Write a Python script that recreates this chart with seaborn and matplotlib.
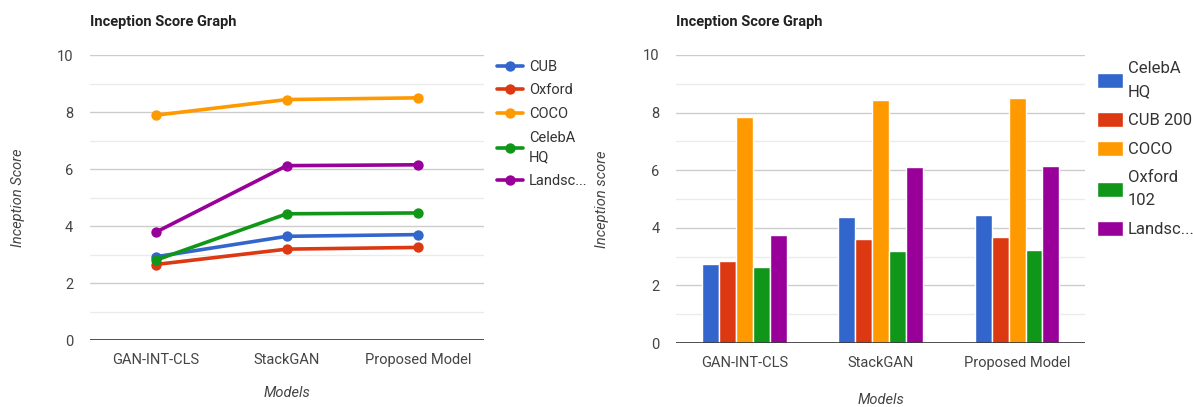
import pandas as pd
import matplotlib
matplotlib.use("Agg")
import matplotlib.pyplot as plt
from matplotlib.ticker import MultipleLocator
import seaborn as sns

# models on the x axis
models = ["GAN-INT-CLS", "StackGAN", "Proposed Model"]

# LINE CHART (left) - inception score per dataset
line_names = ["CUB", "Oxford", "COCO", "CelebA HQ", "Landsc..."]
line_cub = [2.92, 3.64, 3.70]
line_oxford = [2.65, 3.19, 3.25]
line_coco = [7.89, 8.44, 8.50]
line_celeba = [2.80, 4.43, 4.46]
line_landsc = [3.78, 6.12, 6.15]

# BAR CHART (right)
bar_names = ["CelebA HQ", "CUB 200", "COCO", "Oxford 102", "Landsc..."]
bar_celeba = [2.76, 4.39, 4.43]
bar_cub = [2.84, 3.60, 3.68]
bar_coco = [7.85, 8.45, 8.50]
bar_oxford = [2.63, 3.18, 3.22]
bar_landsc = [3.76, 6.10, 6.14]

line_labels = ["CUB", "Oxford", "COCO", "CelebA\nHQ", "Landsc..."]
bar_labels = ["CelebA\nHQ", "CUB 200", "COCO", "Oxford\n102", "Landsc..."]

line_clr = ["#3366cc", "#dc3912", "#ff9900", "#109618", "#990099"]
bar_clr = ["#3366cc", "#dc3912", "#ff9900", "#109618", "#990099"]


def long_df(names, series):
    rows = []
    for n, vals in zip(names, series):
        for m, v in zip(models, vals):
            rows.append({"model": m, "dataset": n, "score": v})
    return pd.DataFrame(rows)


dfl = long_df(line_names, [line_cub, line_oxford, line_coco, line_celeba, line_landsc])
dfb = long_df(bar_names, [bar_celeba, bar_cub, bar_coco, bar_oxford, bar_landsc])

sns.set_style("white")
plt.rcParams["font.family"] = ["Roboto", "DejaVu Sans"]

fig = plt.figure(figsize=(11.93, 4.07), dpi=100)
ax1 = fig.add_axes([0.0754, 0.1646, 0.330, 0.700])
ax2 = fig.add_axes([0.5667, 0.157, 0.343, 0.708])

sns.pointplot(data=dfl, x="model", y="score", hue="dataset", order=models,
              hue_order=line_names, palette=line_clr, markers="o", dodge=False,
              errorbar=None, markersize=5.5, linewidth=2.6, ax=ax1)

sns.barplot(data=dfb, x="model", y="score", hue="dataset", order=models,
            hue_order=bar_names, palette=bar_clr, saturation=1, width=0.62,
            errorbar=None, ax=ax2)


def style(ax, ylab, title, xlab_y):
    ax.set_ylim(0, 10)
    ax.set_xlim(-0.5, 2.5)
    ax.set_yticks(range(0, 11, 2))
    ax.yaxis.set_minor_locator(MultipleLocator(1))
    ax.grid(which="major", axis="y", color="#cccccc", lw=1)
    ax.grid(which="minor", axis="y", color="#ebebeb", lw=1)
    ax.set_axisbelow(True)
    for s in ax.spines.values():
        s.set_visible(False)
    ax.axhline(0, color="#333333", lw=1.2, zorder=5)
    ax.tick_params(axis="both", which="both", length=0, labelsize=10.5,
                   labelcolor="#444444")
    ax.tick_params(axis="y", pad=12)
    ax.tick_params(axis="x", pad=9)
    ax.set_xlabel("Models", fontsize=10.5, style="italic", color="#444444")
    ax.set_ylabel(ylab, fontsize=10.5, style="italic", color="#444444")
    ax.yaxis.set_label_coords(-0.165, 0.5)
    ax.xaxis.set_label_coords(0.5, xlab_y)
    ax.text(0.0, 1.115, title, transform=ax.transAxes, fontsize=10.5,
            fontweight="bold", color="#222222", va="center", ha="left")


style(ax1, "Inception Score", "Inception Score Graph", -0.163)
style(ax2, "Inception score", "Inception Score Graph", -0.172)

h, l = ax1.get_legend_handles_labels()
ax1.get_legend().remove()
leg1 = fig.legend(h, line_labels, loc="upper left", bbox_to_anchor=(0.4166, 0.853),
                  frameon=False, fontsize=10.5, handlelength=1.8, handletextpad=0.4,
                  labelspacing=0.66, labelcolor="#333333", borderpad=0,
                  borderaxespad=0)
for t in leg1.get_texts():
    t.set_linespacing(1.5)

h, l = ax2.get_legend_handles_labels()
ax2.get_legend().remove()
leg2 = fig.legend(h, bar_labels, loc="upper left", bbox_to_anchor=(0.9195, 0.85),
                  frameon=False, fontsize=12, handlelength=1.55, handleheight=1.05,
                  handletextpad=0.3, labelspacing=0.75, labelcolor="#333333",
                  borderpad=0, borderaxespad=0)
for t in leg2.get_texts():
    t.set_linespacing(1.7)

plt.savefig("out.png", dpi=100)
